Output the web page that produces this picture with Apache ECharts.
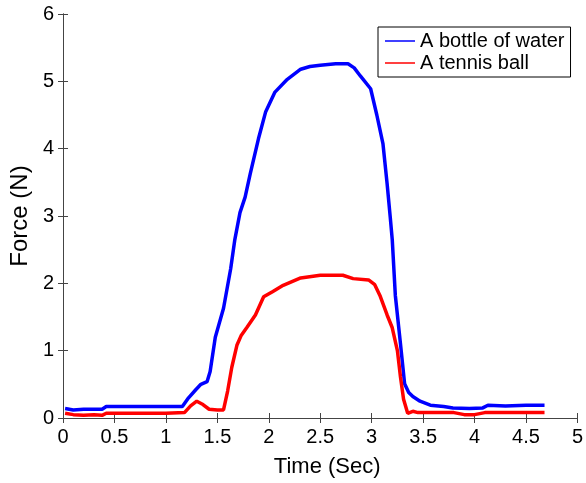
<!DOCTYPE html>
<html>
<head>
<meta charset="utf-8">
<script src="https://cdn.jsdelivr.net/npm/echarts@6/dist/echarts.min.js"></script>
<style>html,body{margin:0;padding:0;background:#fff}#c{width:586px;height:483px}</style>
</head>
<body>
<div id="c"></div>
<script>
var seriesNames = ['A bottle of water', 'A tennis ball'];
var xTicks = [0, 0.5, 1, 1.5, 2, 2.5, 3, 3.5, 4, 4.5, 5];
var yTicks = [0, 1, 2, 3, 4, 5, 6];

var waterTime = [0.02, 0.1, 0.2, 0.3, 0.38, 0.42, 0.6, 0.8, 1.0, 1.16, 1.22, 1.29, 1.34, 1.40, 1.43, 1.48, 1.56, 1.63, 1.67, 1.72, 1.77, 1.82, 1.90, 1.97, 2.06, 2.18, 2.31, 2.40, 2.50, 2.65, 2.77, 2.83, 2.89, 2.99, 3.05, 3.11, 3.15, 3.18, 3.20, 3.23, 3.28, 3.32, 3.36, 3.40, 3.47, 3.57, 3.70, 3.79, 3.95, 4.08, 4.13, 4.3, 4.5, 4.68];
var waterForce = [0.14, 0.12, 0.13, 0.13, 0.13, 0.17, 0.17, 0.17, 0.17, 0.17, 0.3, 0.42, 0.5, 0.54, 0.69, 1.2, 1.63, 2.22, 2.65, 3.05, 3.28, 3.63, 4.15, 4.55, 4.84, 5.03, 5.18, 5.22, 5.24, 5.26, 5.26, 5.2, 5.08, 4.89, 4.5, 4.07, 3.48, 2.99, 2.65, 1.82, 1.1, 0.51, 0.38, 0.32, 0.25, 0.19, 0.17, 0.15, 0.14, 0.15, 0.19, 0.18, 0.19, 0.19];

var ballTime = [0.02, 0.1, 0.2, 0.3, 0.38, 0.42, 0.7, 1.0, 1.18, 1.24, 1.30, 1.36, 1.42, 1.50, 1.56, 1.60, 1.64, 1.69, 1.73, 1.79, 1.87, 1.95, 2.04, 2.14, 2.31, 2.50, 2.72, 2.82, 2.97, 3.03, 3.08, 3.15, 3.20, 3.25, 3.28, 3.31, 3.35, 3.40, 3.45, 3.6, 3.8, 3.9, 4.0, 4.1, 4.3, 4.68];
var ballForce = [0.07, 0.05, 0.04, 0.05, 0.04, 0.07, 0.07, 0.07, 0.08, 0.18, 0.25, 0.2, 0.13, 0.12, 0.12, 0.4, 0.75, 1.08, 1.22, 1.35, 1.53, 1.8, 1.88, 1.97, 2.08, 2.12, 2.12, 2.07, 2.05, 1.98, 1.82, 1.53, 1.34, 1.0, 0.61, 0.28, 0.07, 0.1, 0.08, 0.08, 0.08, 0.05, 0.05, 0.08, 0.08, 0.08];

function pairs(t, f) { return t.map(function (v, i) { return [v, f[i]]; }); }

var FONT = 'Liberation Sans, Arial, sans-serif';
var axisColor = '#444';
var TL = 5;

var chart = echarts.init(document.getElementById('c'), null, { renderer: 'canvas' });
chart.setOption({
  animation: false,
  backgroundColor: '#fff',
  grid: { left: 62, right: 8, top: 14, bottom: 61, containLabel: false },
  legend: {
    data: seriesNames,
    orient: 'vertical',
    left: 378, top: 27,
    padding: [4, 6, 4, 7],
    itemGap: 2,
    itemWidth: 30, itemHeight: 1.5,
    icon: 'rect',
    backgroundColor: '#fff',
    borderColor: '#000', borderWidth: 1,
    textStyle: { fontFamily: FONT, fontSize: 20, color: '#000', padding: [0, 0, 0, 0] }
  },
  xAxis: [{
    type: 'value', min: xTicks[0], max: xTicks[xTicks.length - 1], interval: 0.5,
    name: 'Time (Sec)', nameLocation: 'middle', nameGap: 38,
    nameTextStyle: { fontFamily: FONT, fontSize: 22, color: '#000', padding: [0, 0, 0, 14] },
    axisLine: { show: true, lineStyle: { color: axisColor, width: 1 } },
    axisTick: { show: true, inside: true, length: TL, lineStyle: { color: axisColor } },
    axisLabel: { fontFamily: FONT, fontSize: 20, color: '#000', margin: 9 },
    splitLine: { show: false }
  }, {
    type: 'value', position: 'top', min: xTicks[0], max: xTicks[xTicks.length - 1], interval: 0.5,
    axisLine: { show: true, lineStyle: { color: axisColor, width: 1 } },
    axisTick: { show: true, inside: true, length: TL, lineStyle: { color: axisColor } },
    axisLabel: { show: false }, splitLine: { show: false }
  }],
  yAxis: [{
    type: 'value', min: yTicks[0], max: yTicks[yTicks.length - 1], interval: 1,
    name: 'Force (N)', nameLocation: 'middle', nameGap: 28, nameRotate: 90,
    nameTextStyle: { fontFamily: FONT, fontSize: 24, color: '#000' },
    axisLine: { show: true, lineStyle: { color: axisColor, width: 1 } },
    axisTick: { show: true, inside: true, length: TL, lineStyle: { color: axisColor } },
    axisLabel: { fontFamily: FONT, fontSize: 20, color: '#000', margin: 9 },
    splitLine: { show: false }
  }, {
    type: 'value', position: 'right', min: yTicks[0], max: yTicks[yTicks.length - 1], interval: 1,
    axisLine: { show: true, lineStyle: { color: axisColor, width: 1 } },
    axisTick: { show: true, inside: true, length: TL, lineStyle: { color: axisColor } },
    axisLabel: { show: false }, splitLine: { show: false }
  }],
  series: [{
    name: seriesNames[0], type: 'line', xAxisIndex: 0, yAxisIndex: 0,
    data: pairs(waterTime, waterForce), showSymbol: false, smooth: false,
    color: '#0000ff', lineStyle: { color: '#0000ff', width: 3.5 }
  }, {
    name: seriesNames[1], type: 'line', xAxisIndex: 0, yAxisIndex: 0,
    data: pairs(ballTime, ballForce), showSymbol: false, smooth: false,
    color: '#ff0000', lineStyle: { color: '#ff0000', width: 3.5 }
  }]
});
</script>
</body>
</html>
